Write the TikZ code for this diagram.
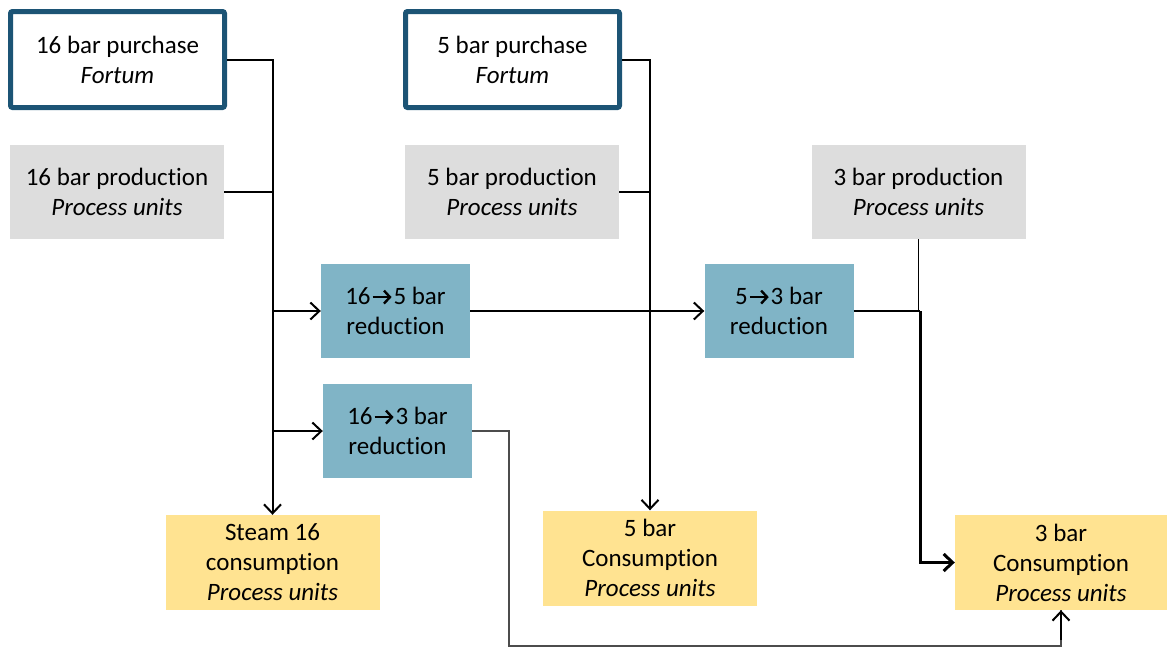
\documentclass[tikz,border=0pt]{standalone}
\usepackage{fontspec}
\setmainfont{Carlito}[Ligatures=NoCommon]
\usetikzlibrary{arrows.meta}
\definecolor{frameblue}{HTML}{1C5475}
\definecolor{prodgray}{HTML}{DDDDDD}
\definecolor{redblue}{HTML}{80B4C6}
\definecolor{consyellow}{HTML}{FFE391}
% bold arrow between pressure levels
\newcommand{\barrow}{\hspace{0.03em}\tikz[baseline=0pt, x=1pt, y=1pt]
  \draw[line width=2.4pt, -{Straight Barb[length=6,width=13,line width=2.4pt]}] (0,7.5) -- (19,7.5);\hspace{0.03em}}
\tikzset{
  box/.style={rectangle, inner sep=0pt, align=center, font=\fontsize{25}{30}\selectfont},
  purchase/.style={box, draw=frameblue, line width=5pt, rounded corners=2pt, fill=white,
    minimum width=214, minimum height=96},
  production/.style={box, fill=prodgray, minimum width=214, minimum height=94},
  reduction/.style={box, fill=redblue, minimum width=149, minimum height=94},
  consumption/.style={box, fill=consyellow, minimum width=214, minimum height=95},
  flow/.style={line width=2pt, black},
  tip/.style={-{Straight Barb[length=9,width=17,line width=2pt]}},
}
\begin{document}
\begin{tikzpicture}[x=1pt, y=-1pt]
\useasboundingbox (0,0) rectangle (1168,649);

% sources
\node[purchase] (p16) at (117.5,59.5) {16 bar purchase\\\textit{Fortum}};
\node[purchase] (p5)  at (512.5,59.5) {5 bar purchase\\\textit{Fortum}};
\node[production] (g16) at (117,192)   {16 bar production\\\textit{Process units}};
\node[production] (g5)  at (512,192)   {5 bar production\\\textit{Process units}};
\node[production] (g3)  at (918.5,192) {3 bar production\\\textit{Process units}};

% pressure reductions
\node[reduction] (r165) at (395.5,311) {16\barrow5 bar\\reduction};
\node[reduction] (r163) at (397.5,431) {16\barrow3 bar\\reduction};
\node[reduction] (r53)  at (779,311)   {5\barrow3 bar\\reduction};

% consumers
\node[consumption] (c16) at (272.5,562.5) {Steam 16\\consumption\\\textit{Process units}};
\node[consumption] (c5)  at (650,558)     {5 bar\\Consumption\\\textit{Process units}};
\node[consumption, minimum width=212] (c3) at (1061,562.5) {3 bar\\Consumption\\\textit{Process units}};

\coordinate (k3) at (920,311);
\coordinate (b1) at (509,646);

% 16 bar header
\draw[flow, tip] (p16.east) -| (c16.north);
\draw[flow] (g16.east) -- (c16.north |- g16.east);
\draw[flow, tip] (c16.north |- r165.west) -- (r165.west);
\draw[flow, tip] (c16.north |- r163.west) -- (r163.west);

% 5 bar header
\draw[flow, tip] (p5.east) -| (c5.north);
\draw[flow] (g5.east) -- (c5.north |- g5.east);
\draw[flow, tip] (r165.east) -- (r53.west);

% 3 bar header
\draw[line width=1.5pt] (g3.south) -- (g3.south |- r53.east);
\draw[flow] (r53.east) -- (k3);
\draw[line width=3pt, -{Straight Barb[length=9,width=17,line width=3pt]}] (k3) |- (c3.west);
\draw[line width=1.5pt, black!70] (r163.east) -| (b1) -| (c3.south);
\draw[line width=1.5pt, -{Straight Barb[length=9,width=17,line width=2pt]}] ([yshift=-30]c3.south) -- (c3.south);
\end{tikzpicture}
\end{document}
